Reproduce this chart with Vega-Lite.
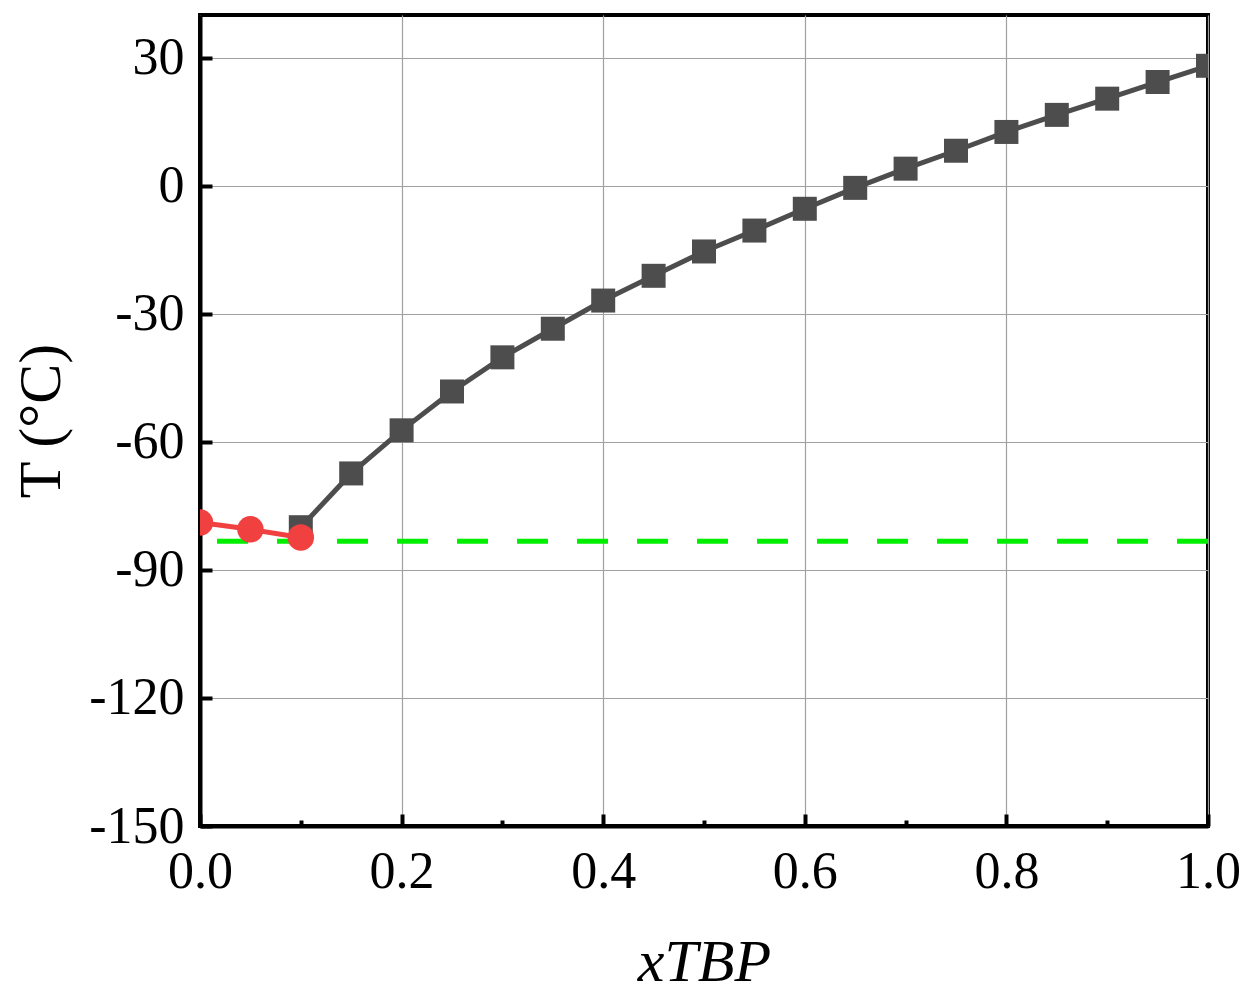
{
  "$schema": "https://vega.github.io/schema/vega-lite/v6.json",
  "width": 1008,
  "height": 811,
  "autosize": {"type": "none"},
  "padding": {"left": 200, "top": 15, "right": 41, "bottom": 174},
  "config": {
    "font": "Liberation Serif",
    "view": {"stroke": "black", "strokeWidth": 4},
    "axis": {
      "domainColor": "black",
      "domainWidth": 4,
      "tickColor": "black",
      "tickWidth": 4,
      "gridColor": "#a0a0a0",
      "gridWidth": 1.2,
      "gridOpacity": 1,
      "labelFont": "Liberation Serif",
      "labelFontSize": 52,
      "labelColor": "black",
      "labelFlush": false,
      "labelOverlap": false,
      "titleFont": "Liberation Serif",
      "titleColor": "black"
    }
  },
  "datasets": {
    "gray": [
      {"x": 0.1, "T": -80.0},
      {"x": 0.15, "T": -67.4},
      {"x": 0.2, "T": -57.3},
      {"x": 0.25, "T": -48.2},
      {"x": 0.3, "T": -40.2},
      {"x": 0.35, "T": -33.5},
      {"x": 0.4, "T": -26.9},
      {"x": 0.45, "T": -21.1},
      {"x": 0.5, "T": -15.4},
      {"x": 0.55, "T": -10.5},
      {"x": 0.6, "T": -5.4},
      {"x": 0.65, "T": -0.5},
      {"x": 0.7, "T": 4.0},
      {"x": 0.75, "T": 8.2},
      {"x": 0.8, "T": 12.6},
      {"x": 0.85, "T": 16.6},
      {"x": 0.9, "T": 20.4},
      {"x": 0.95, "T": 24.3},
      {"x": 1.0, "T": 28.1}
    ],
    "red": [
      {"x": 0.0, "T": -78.9},
      {"x": 0.05, "T": -80.5},
      {"x": 0.1, "T": -82.4}
    ]
  },
  "resolve": {"axis": {"x": "independent"}},
  "layer": [
    {
      "data": {"name": "gray"},
      "mark": {"type": "line", "color": "#4d4d4d", "strokeWidth": 5, "clip": true,
               "point": {"shape": "square", "size": 576, "filled": true, "color": "#4d4d4d", "opacity": 1}},
      "encoding": {
        "x": {"field": "x", "type": "quantitative",
              "scale": {"domain": [0, 1], "nice": false, "zero": false},
              "axis": {"orient": "bottom", "values": [0, 0.2, 0.4, 0.6, 0.8, 1.0], "format": ".1f",
                       "tickSize": -12, "labelPadding": 32, "labelBaseline": "top",
                       "title": "xTBP", "titleFontSize": 60, "titleFontStyle": "italic", "titleFontWeight": "normal",
                       "titlePadding": 36, "grid": true}},
        "y": {"field": "T", "type": "quantitative",
              "scale": {"domain": [-150, 40], "nice": false, "zero": false},
              "axis": {"values": [-150, -120, -90, -60, -30, 0, 30], "tickSize": -12, "labelPadding": 28,
                       "labelExpr": "replace(datum.label, '\u2212', '-')",
                       "title": "T (°C)", "titleFontSize": 60, "titleFontWeight": "normal",
                       "titlePadding": 16, "grid": true}}
      }
    },
    {
      "data": {"values": [{"T": -83.3}]},
      "mark": {"type": "rule", "color": "#00ee00", "strokeWidth": 5, "strokeDash": [31, 29]},
      "encoding": {
        "y": {"field": "T", "type": "quantitative"}
      }
    },
    {
      "data": {"name": "red"},
      "mark": {"type": "line", "color": "#f04040", "strokeWidth": 5, "clip": true,
               "point": {"shape": "circle", "size": 700, "filled": true, "color": "#f04040", "opacity": 1}},
      "encoding": {
        "x": {"field": "x", "type": "quantitative",
              "axis": {"orient": "bottom", "values": [0.1, 0.3, 0.5, 0.7, 0.9], "labels": false,
                       "domain": false, "grid": false, "tickSize": -6, "title": null}},
        "y": {"field": "T", "type": "quantitative"}
      }
    }
  ]
}
